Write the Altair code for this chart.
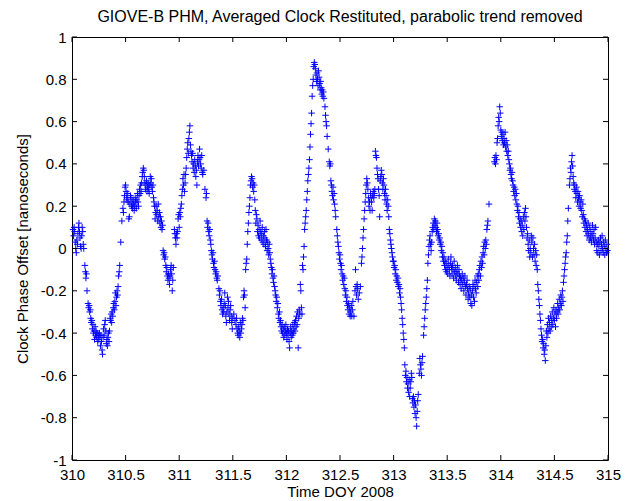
import altair as alt
import pandas as pd

# Averaged clock phase offset after removing a parabolic trend, one list per day of year
day310 = [
    (310.010, 0.09), (310.015, 0.06), (310.020, 0.10), (310.025, 0.08), (310.030, 0.03),
    (310.035, 0.00), (310.040, -0.02), (310.045, 0.04), (310.050, 0.02), (310.055, 0.07),
    (310.060, 0.10), (310.065, 0.12), (310.070, 0.08), (310.075, 0.05), (310.080, 0.01),
    (310.085, 0.00), (310.090, 0.06), (310.095, 0.10), (310.100, 0.08), (310.105, 0.02),
    (310.110, 0.00), (310.120, -0.08), (310.125, -0.11), (310.130, -0.14), (310.135, -0.12),
    (310.140, -0.20), (310.150, -0.26), (310.155, -0.28), (310.160, -0.27), (310.165, -0.30),
    (310.170, -0.29), (310.175, -0.33), (310.180, -0.35), (310.185, -0.34), (310.190, -0.38),
    (310.195, -0.36), (310.200, -0.40), (310.205, -0.39), (310.210, -0.43), (310.215, -0.37),
    (310.220, -0.41), (310.225, -0.39), (310.230, -0.42), (310.235, -0.40), (310.240, -0.44),
    (310.245, -0.41), (310.250, -0.43), (310.255, -0.40), (310.260, -0.42), (310.265, -0.46),
    (310.270, -0.41), (310.275, -0.44), (310.280, -0.48), (310.285, -0.50), (310.290, -0.42),
    (310.295, -0.38), (310.300, -0.41), (310.305, -0.36), (310.310, -0.34), (310.315, -0.39),
    (310.320, -0.45), (310.325, -0.43), (310.330, -0.46), (310.335, -0.42), (310.340, -0.40),
    (310.345, -0.44), (310.350, -0.39), (310.355, -0.33), (310.360, -0.34), (310.365, -0.31),
    (310.370, -0.35), (310.375, -0.30), (310.380, -0.32), (310.385, -0.28), (310.390, -0.26),
    (310.395, -0.29), (310.400, -0.25), (310.405, -0.21), (310.410, -0.27), (310.415, -0.23),
    (310.420, -0.20), (310.425, -0.22), (310.430, -0.18), (310.435, -0.13), (310.440, -0.11),
    (310.445, -0.08), (310.455, 0.03), (310.465, 0.13), (310.475, 0.19), (310.480, 0.17),
    (310.485, 0.22), (310.490, 0.25), (310.495, 0.29), (310.500, 0.30), (310.505, 0.27),
    (310.510, 0.24), (310.515, 0.23), (310.520, 0.26), (310.525, 0.22), (310.530, 0.14),
    (310.535, 0.15), (310.540, 0.21), (310.545, 0.25), (310.550, 0.24), (310.555, 0.20),
    (310.560, 0.22), (310.565, 0.19), (310.570, 0.23), (310.575, 0.21), (310.580, 0.18),
    (310.585, 0.20), (310.590, 0.24), (310.595, 0.22), (310.600, 0.19), (310.605, 0.23),
    (310.610, 0.26), (310.615, 0.22), (310.620, 0.20), (310.625, 0.25), (310.630, 0.28),
    (310.635, 0.26), (310.640, 0.30), (310.645, 0.27), (310.650, 0.31), (310.655, 0.34),
    (310.660, 0.36), (310.665, 0.38), (310.670, 0.37), (310.675, 0.34), (310.680, 0.31),
    (310.685, 0.28), (310.690, 0.30), (310.695, 0.32), (310.700, 0.27), (310.705, 0.29),
    (310.710, 0.31), (310.715, 0.28), (310.720, 0.26), (310.725, 0.30), (310.730, 0.34),
    (310.735, 0.31), (310.740, 0.33), (310.745, 0.29), (310.750, 0.27), (310.755, 0.30),
    (310.760, 0.24), (310.765, 0.22), (310.770, 0.20), (310.775, 0.14), (310.780, 0.17),
    (310.785, 0.20), (310.790, 0.16), (310.795, 0.18), (310.800, 0.13), (310.805, 0.21),
    (310.810, 0.15), (310.815, 0.17), (310.820, 0.12), (310.825, 0.15), (310.830, 0.10),
    (310.835, 0.13), (310.840, 0.09), (310.845, 0.11), (310.850, -0.01), (310.855, -0.03),
    (310.860, -0.02), (310.865, -0.05), (310.870, -0.04), (310.875, -0.08), (310.880, -0.11),
    (310.885, -0.09), (310.890, -0.13), (310.895, -0.15), (310.900, -0.12), (310.905, -0.14),
    (310.910, -0.17), (310.915, -0.13), (310.920, -0.10), (310.925, -0.08), (310.930, -0.12),
    (310.935, -0.20), (310.940, -0.15), (310.945, -0.09), (310.955, 0.09), (310.960, 0.07),
    (310.965, 0.05), (310.970, 0.02), (310.975, 0.07), (310.980, 0.05), (310.985, 0.08),
    (310.990, 0.14), (310.995, 0.16),
]

day311 = [
    (311.000, 0.10), (311.005, 0.17), (311.010, 0.15), (311.015, 0.19), (311.020, 0.21),
    (311.025, 0.25), (311.030, 0.28), (311.035, 0.33), (311.040, 0.30), (311.045, 0.35),
    (311.050, 0.27), (311.055, 0.31), (311.060, 0.35), (311.065, 0.38), (311.070, 0.43),
    (311.075, 0.47), (311.080, 0.50), (311.085, 0.45), (311.090, 0.52), (311.095, 0.55),
    (311.100, 0.58), (311.105, 0.49), (311.110, 0.46), (311.115, 0.44), (311.120, 0.41),
    (311.125, 0.45), (311.130, 0.38), (311.135, 0.40), (311.140, 0.36), (311.145, 0.42),
    (311.150, 0.39), (311.155, 0.34), (311.160, 0.37), (311.165, 0.30), (311.170, 0.41),
    (311.175, 0.44), (311.180, 0.39), (311.185, 0.42), (311.190, 0.47), (311.195, 0.43),
    (311.200, 0.40), (311.205, 0.38), (311.210, 0.44), (311.215, 0.36), (311.220, 0.35),
    (311.230, 0.37), (311.240, 0.28), (311.250, 0.24), (311.255, 0.26), (311.260, 0.13),
    (311.265, 0.10), (311.270, 0.12), (311.275, 0.08), (311.280, 0.06), (311.285, 0.09),
    (311.290, 0.04), (311.295, 0.02), (311.300, -0.01), (311.305, -0.03), (311.310, -0.05),
    (311.315, -0.02), (311.320, -0.07), (311.325, -0.09), (311.330, -0.06), (311.335, -0.10),
    (311.340, -0.12), (311.345, -0.11), (311.350, -0.14), (311.355, -0.15), (311.360, -0.13),
    (311.370, -0.19), (311.375, -0.22), (311.380, -0.20), (311.385, -0.25), (311.390, -0.27),
    (311.395, -0.24), (311.400, -0.29), (311.405, -0.31), (311.410, -0.28), (311.415, -0.30),
    (311.420, -0.26), (311.425, -0.21), (311.430, -0.27), (311.435, -0.32), (311.440, -0.35),
    (311.445, -0.30), (311.450, -0.23), (311.455, -0.28), (311.460, -0.25), (311.465, -0.31),
    (311.470, -0.34), (311.475, -0.29), (311.480, -0.27), (311.485, -0.32), (311.490, -0.35),
    (311.495, -0.38), (311.500, -0.33), (311.510, -0.31), (311.520, -0.34), (311.530, -0.36),
    (311.535, -0.33), (311.540, -0.38), (311.545, -0.40), (311.550, -0.41), (311.555, -0.37),
    (311.560, -0.39), (311.565, -0.42), (311.570, -0.35), (311.575, -0.40), (311.580, -0.38),
    (311.585, -0.36), (311.590, -0.33), (311.595, -0.34), (311.600, -0.23), (311.605, -0.20),
    (311.610, -0.22), (311.615, -0.28), (311.620, -0.10), (311.625, -0.07), (311.630, -0.05),
    (311.635, 0.02), (311.640, 0.08), (311.645, 0.12), (311.650, 0.17), (311.655, 0.20),
    (311.660, 0.24), (311.665, 0.30), (311.670, 0.32), (311.675, 0.34), (311.680, 0.33),
    (311.685, 0.29), (311.690, 0.31), (311.695, 0.27), (311.700, 0.30), (311.705, 0.23),
    (311.710, 0.18), (311.715, 0.12), (311.720, 0.16), (311.725, 0.14), (311.730, 0.08),
    (311.735, 0.11), (311.740, 0.06), (311.745, 0.09), (311.750, 0.05), (311.755, 0.13),
    (311.760, 0.08), (311.765, 0.04), (311.770, 0.07), (311.775, 0.10), (311.780, 0.03),
    (311.785, 0.06), (311.790, 0.02), (311.795, 0.08), (311.800, 0.05), (311.805, 0.01),
    (311.810, 0.09), (311.815, 0.04), (311.820, -0.01), (311.825, 0.03), (311.830, 0.00),
    (311.835, -0.03), (311.840, 0.02), (311.845, -0.02), (311.850, -0.05), (311.855, -0.07),
    (311.860, -0.09), (311.865, -0.12), (311.870, -0.10), (311.875, -0.14), (311.880, -0.16),
    (311.885, -0.13), (311.890, -0.18), (311.895, -0.20), (311.900, -0.22), (311.905, -0.25),
    (311.910, -0.23), (311.915, -0.28), (311.920, -0.26), (311.925, -0.31), (311.930, -0.33),
    (311.935, -0.30), (311.940, -0.35), (311.945, -0.34), (311.950, -0.37), (311.955, -0.39),
    (311.960, -0.36), (311.965, -0.40), (311.970, -0.38), (311.975, -0.42), (311.980, -0.37),
    (311.985, -0.41), (311.990, -0.39), (311.995, -0.36),
]

day312 = [
    (312.000, -0.40), (312.005, -0.43), (312.010, -0.38), (312.015, -0.41), (312.020, -0.39),
    (312.025, -0.44), (312.030, -0.47), (312.035, -0.40), (312.040, -0.37), (312.045, -0.42),
    (312.050, -0.39), (312.055, -0.41), (312.060, -0.36), (312.065, -0.40), (312.070, -0.38),
    (312.075, -0.35), (312.080, -0.39), (312.085, -0.34), (312.090, -0.37), (312.095, -0.32),
    (312.100, -0.36), (312.105, -0.30), (312.110, -0.47), (312.115, -0.33), (312.120, -0.29),
    (312.125, -0.31), (312.130, -0.17), (312.135, -0.20), (312.140, -0.28), (312.145, -0.31),
    (312.150, -0.08), (312.155, -0.10), (312.160, -0.04), (312.165, 0.01), (312.170, 0.09),
    (312.175, 0.12), (312.180, 0.15), (312.185, 0.18), (312.190, 0.23), (312.195, 0.27),
    (312.200, 0.32), (312.205, 0.35), (312.210, 0.38), (312.215, 0.42), (312.220, 0.48),
    (312.225, 0.54), (312.230, 0.59), (312.235, 0.64), (312.240, 0.72), (312.245, 0.77),
    (312.250, 0.80), (312.255, 0.86), (312.260, 0.88), (312.265, 0.87), (312.270, 0.85),
    (312.275, 0.82), (312.280, 0.79), (312.285, 0.83), (312.290, 0.80), (312.295, 0.77),
    (312.300, 0.84), (312.305, 0.81), (312.310, 0.78), (312.315, 0.75), (312.320, 0.79),
    (312.325, 0.76), (312.330, 0.73), (312.335, 0.75), (312.340, 0.72), (312.345, 0.74),
    (312.350, 0.71), (312.360, 0.67), (312.365, 0.63), (312.370, 0.60), (312.375, 0.58),
    (312.380, 0.53), (312.390, 0.47), (312.400, 0.41), (312.405, 0.39), (312.410, 0.40),
    (312.415, 0.32), (312.420, 0.30), (312.425, 0.27), (312.430, 0.25), (312.435, 0.29),
    (312.440, 0.23), (312.445, 0.26), (312.450, 0.21), (312.455, 0.18), (312.460, 0.15),
    (312.470, 0.09), (312.475, 0.06), (312.480, 0.03), (312.485, 0.01), (312.490, -0.02),
    (312.495, -0.05), (312.500, -0.03), (312.505, -0.07), (312.510, -0.10), (312.515, -0.08),
    (312.520, -0.12), (312.525, -0.15), (312.530, -0.13), (312.535, -0.17), (312.540, -0.14),
    (312.545, -0.19), (312.550, -0.22), (312.555, -0.20), (312.560, -0.25), (312.565, -0.23),
    (312.570, -0.27), (312.575, -0.29), (312.580, -0.26), (312.585, -0.31), (312.590, -0.28),
    (312.595, -0.32), (312.600, -0.30), (312.605, -0.27), (312.610, -0.32), (312.615, -0.29),
    (312.620, -0.25), (312.630, -0.32), (312.640, -0.20), (312.645, -0.10), (312.650, -0.18),
    (312.655, -0.22), (312.660, -0.17), (312.665, -0.19), (312.670, -0.24), (312.680, -0.21),
    (312.690, -0.18), (312.700, -0.07), (312.705, -0.04), (312.710, 0.00), (312.715, 0.05),
    (312.720, 0.09), (312.725, 0.14), (312.730, 0.18), (312.735, 0.22), (312.740, 0.26),
    (312.745, 0.30), (312.750, 0.33), (312.755, 0.31), (312.760, 0.28), (312.765, 0.24),
    (312.770, 0.20), (312.775, 0.22), (312.780, 0.18), (312.785, 0.26), (312.790, 0.24),
    (312.795, 0.22), (312.800, 0.18), (312.805, 0.25), (312.810, 0.27), (312.815, 0.24),
    (312.820, 0.26), (312.825, 0.28), (312.830, 0.46), (312.835, 0.44), (312.840, 0.43),
    (312.845, 0.38), (312.850, 0.35), (312.855, 0.33), (312.860, 0.28), (312.865, 0.25),
    (312.870, 0.15), (312.875, 0.32), (312.880, 0.34), (312.885, 0.37), (312.890, 0.35),
    (312.895, 0.31), (312.900, 0.28), (312.905, 0.33), (312.910, 0.30), (312.915, 0.26),
    (312.920, 0.23), (312.925, 0.28), (312.930, 0.25), (312.935, 0.21), (312.940, 0.18),
    (312.945, 0.23), (312.950, 0.20), (312.955, 0.15), (312.960, 0.09), (312.965, 0.07),
    (312.970, 0.04), (312.975, 0.02), (312.980, 0.00), (312.985, -0.02), (312.990, -0.04),
    (312.995, -0.06),
]

day313 = [
    (313.000, -0.06), (313.005, -0.09), (313.010, -0.08), (313.015, -0.12), (313.020, -0.10),
    (313.025, -0.15), (313.030, -0.13), (313.035, -0.16), (313.040, -0.14), (313.045, -0.18),
    (313.050, -0.17), (313.055, -0.21), (313.060, -0.19), (313.065, -0.23), (313.070, -0.26),
    (313.075, -0.29), (313.080, -0.33), (313.085, -0.36), (313.090, -0.40), (313.095, -0.43),
    (313.100, -0.47), (313.105, -0.55), (313.110, -0.60), (313.115, -0.58), (313.120, -0.63),
    (313.125, -0.61), (313.130, -0.66), (313.135, -0.64), (313.140, -0.68), (313.145, -0.62),
    (313.150, -0.70), (313.155, -0.66), (313.160, -0.63), (313.165, -0.59), (313.170, -0.61),
    (313.175, -0.71), (313.180, -0.73), (313.185, -0.70), (313.190, -0.75), (313.195, -0.72),
    (313.200, -0.78), (313.205, -0.74), (313.210, -0.80), (313.215, -0.84), (313.220, -0.77),
    (313.225, -0.72), (313.230, -0.69), (313.240, -0.59), (313.245, -0.52), (313.250, -0.55),
    (313.255, -0.57), (313.260, -0.60), (313.265, -0.54), (313.270, -0.51), (313.280, -0.41),
    (313.285, -0.37), (313.290, -0.33), (313.295, -0.29), (313.300, -0.26), (313.305, -0.23),
    (313.310, -0.19), (313.315, -0.15), (313.320, -0.07), (313.325, -0.03), (313.330, 0.01),
    (313.335, 0.04), (313.340, 0.06), (313.345, 0.02), (313.350, -0.01), (313.355, 0.03),
    (313.360, 0.08), (313.365, 0.10), (313.370, 0.12), (313.375, 0.09), (313.380, 0.14),
    (313.385, 0.11), (313.390, 0.13), (313.395, 0.10), (313.400, 0.08), (313.405, 0.12),
    (313.410, 0.09), (313.415, 0.06), (313.420, 0.07), (313.425, 0.04), (313.430, 0.05),
    (313.435, 0.02), (313.440, 0.03), (313.445, -0.01), (313.450, 0.01), (313.455, -0.04),
    (313.460, -0.02), (313.465, -0.06), (313.470, -0.04), (313.475, -0.08), (313.480, -0.06),
    (313.485, -0.10), (313.490, -0.07), (313.495, -0.11), (313.500, -0.09), (313.505, -0.12),
    (313.510, -0.05), (313.515, -0.08), (313.520, -0.10), (313.525, -0.13), (313.530, -0.07),
    (313.535, -0.04), (313.540, -0.09), (313.545, -0.12), (313.550, -0.08), (313.555, -0.10),
    (313.560, -0.14), (313.565, -0.06), (313.570, -0.11), (313.575, -0.09), (313.580, -0.13),
    (313.585, -0.15), (313.590, -0.11), (313.595, -0.08), (313.600, -0.12), (313.605, -0.16),
    (313.610, -0.10), (313.615, -0.13), (313.620, -0.17), (313.625, -0.14), (313.630, -0.19),
    (313.635, -0.15), (313.640, -0.12), (313.645, -0.17), (313.650, -0.14), (313.655, -0.20),
    (313.660, -0.16), (313.665, -0.13), (313.670, -0.18), (313.675, -0.22), (313.680, -0.17),
    (313.685, -0.15), (313.690, -0.19), (313.695, -0.24), (313.700, -0.21), (313.705, -0.18),
    (313.710, -0.23), (313.715, -0.19), (313.720, -0.26), (313.725, -0.22), (313.730, -0.27),
    (313.735, -0.20), (313.740, -0.17), (313.745, -0.23), (313.750, -0.18), (313.755, -0.25),
    (313.760, -0.15), (313.765, -0.19), (313.770, -0.21), (313.775, -0.16), (313.780, -0.13),
    (313.785, -0.18), (313.790, -0.12), (313.795, -0.15), (313.800, -0.10), (313.805, -0.08),
    (313.810, -0.13), (313.815, -0.06), (313.820, -0.09), (313.825, -0.04), (313.830, -0.07),
    (313.835, -0.02), (313.840, 0.01), (313.845, -0.03), (313.850, 0.03), (313.855, 0.00),
    (313.860, 0.04), (313.865, 0.02), (313.870, 0.09), (313.875, 0.11), (313.880, 0.13),
    (313.890, 0.21), (313.940, 0.41), (313.945, 0.43), (313.950, 0.40), (313.955, 0.44),
    (313.960, 0.42), (313.965, 0.50), (313.970, 0.52), (313.975, 0.58), (313.980, 0.62),
    (313.985, 0.60), (313.990, 0.67), (313.995, 0.64),
]

day314 = [
    (314.000, 0.56), (314.005, 0.53), (314.010, 0.55), (314.015, 0.51), (314.020, 0.54),
    (314.025, 0.49), (314.030, 0.52), (314.035, 0.50), (314.040, 0.55), (314.045, 0.48),
    (314.050, 0.51), (314.055, 0.46), (314.060, 0.49), (314.065, 0.44), (314.070, 0.46),
    (314.075, 0.42), (314.080, 0.40), (314.085, 0.37), (314.090, 0.38), (314.095, 0.35),
    (314.100, 0.33), (314.105, 0.36), (314.110, 0.32), (314.115, 0.30), (314.120, 0.27),
    (314.125, 0.29), (314.130, 0.25), (314.135, 0.28), (314.140, 0.23), (314.145, 0.26),
    (314.150, 0.21), (314.155, 0.18), (314.160, 0.20), (314.165, 0.15), (314.170, 0.17),
    (314.175, 0.12), (314.180, 0.14), (314.185, 0.10), (314.190, 0.13), (314.195, 0.08),
    (314.200, 0.11), (314.205, 0.06), (314.210, 0.15), (314.215, 0.09), (314.220, 0.17),
    (314.225, 0.13), (314.230, 0.19), (314.235, 0.15), (314.240, 0.10), (314.245, 0.05),
    (314.250, 0.07), (314.255, 0.02), (314.260, -0.01), (314.265, 0.04), (314.270, -0.04),
    (314.275, 0.00), (314.280, -0.02), (314.285, 0.06), (314.290, 0.03), (314.295, -0.04),
    (314.300, 0.05), (314.305, 0.00), (314.310, -0.03), (314.315, 0.02), (314.320, -0.06),
    (314.325, -0.01), (314.330, -0.08), (314.335, -0.03), (314.340, -0.10), (314.345, -0.17),
    (314.350, -0.20), (314.355, -0.24), (314.360, -0.27), (314.365, -0.31), (314.370, -0.34),
    (314.375, -0.38), (314.380, -0.41), (314.385, -0.44), (314.390, -0.43), (314.395, -0.47),
    (314.400, -0.45), (314.405, -0.50), (314.410, -0.48), (314.415, -0.53), (314.420, -0.46),
    (314.425, -0.39), (314.430, -0.42), (314.435, -0.36), (314.440, -0.40), (314.445, -0.33),
    (314.450, -0.38), (314.455, -0.35), (314.460, -0.39), (314.465, -0.32), (314.470, -0.37),
    (314.475, -0.34), (314.480, -0.30), (314.485, -0.36), (314.490, -0.33), (314.495, -0.28),
    (314.500, -0.34), (314.505, -0.31), (314.510, -0.37), (314.515, -0.29), (314.520, -0.33),
    (314.525, -0.30), (314.530, -0.26), (314.535, -0.31), (314.540, -0.28), (314.545, -0.24),
    (314.550, -0.29), (314.555, -0.26), (314.560, -0.22), (314.565, -0.27), (314.570, -0.23),
    (314.575, -0.20), (314.580, -0.25), (314.585, -0.16), (314.590, -0.13), (314.595, -0.10),
    (314.600, -0.07), (314.605, -0.04), (314.610, -0.02), (314.615, 0.03), (314.620, 0.06),
    (314.625, 0.13), (314.630, 0.19), (314.640, 0.30), (314.645, 0.33), (314.650, 0.38),
    (314.655, 0.36), (314.660, 0.41), (314.665, 0.44), (314.670, 0.39), (314.675, 0.34),
    (314.680, 0.31), (314.685, 0.28), (314.690, 0.30), (314.695, 0.27), (314.700, 0.24),
    (314.705, 0.29), (314.710, 0.26), (314.715, 0.22), (314.720, 0.27), (314.725, 0.24),
    (314.730, 0.20), (314.735, 0.25), (314.740, 0.22), (314.745, 0.19), (314.750, 0.23),
    (314.755, 0.18), (314.760, 0.15), (314.765, 0.21), (314.770, 0.16), (314.775, 0.12),
    (314.780, 0.14), (314.785, 0.10), (314.790, 0.13), (314.795, 0.08), (314.800, 0.11),
    (314.805, 0.06), (314.810, 0.09), (314.815, 0.12), (314.820, 0.07), (314.825, 0.04),
    (314.830, 0.10), (314.835, 0.05), (314.840, 0.08), (314.845, 0.03), (314.850, 0.06),
    (314.855, 0.11), (314.860, 0.07), (314.865, 0.04), (314.870, 0.09), (314.875, 0.02),
    (314.880, 0.05), (314.885, 0.10), (314.890, 0.03), (314.895, -0.01), (314.900, 0.02),
    (314.905, -0.02), (314.910, 0.04), (314.915, 0.01), (314.920, -0.03), (314.925, 0.03),
    (314.930, 0.05), (314.935, -0.01), (314.940, 0.02), (314.945, 0.06), (314.950, 0.00),
    (314.955, -0.02), (314.960, 0.03), (314.965, 0.01), (314.970, -0.03), (314.975, 0.04),
    (314.980, 0.00), (314.985, -0.02), (314.990, 0.02), (314.995, -0.01),
]

x_ticks = [310, 310.5, 311, 311.5, 312, 312.5, 313, 313.5, 314, 314.5, 315]
y_ticks = [-1, -0.8, -0.6, -0.4, -0.2, 0, 0.2, 0.4, 0.6, 0.8, 1]

W, H = 536, 423
FONT = "Liberation Sans"
FS = 15
TICK_LEN = 5

rows = day310 + day311 + day312 + day313 + day314
df = pd.DataFrame(rows, columns=["doy", "offset"])
xt = pd.DataFrame({"doy": x_ticks})
yt = pd.DataFrame({"offset": y_ticks})

x_scale = alt.Scale(domain=[310, 315], nice=False, zero=False)
y_scale = alt.Scale(domain=[-1, 1], nice=False, zero=False)

common = dict(ticks=False, tickSize=0, domain=False, grid=False, labelFlush=False,
              labelOverlap=False, labelFont=FONT, labelFontSize=FS, labelColor="black",
              titleFont=FONT, titleFontSize=FS, titleFontWeight="normal", titleColor="black")
x_axis = alt.Axis(values=x_ticks, format="~g", title="Time DOY 2008",
                  labelPadding=7, titlePadding=2, **common)
y_axis = alt.Axis(values=y_ticks, title="Clock Phase Offset [nanoseconds]",
                  labelExpr="replace(format(datum.value, '~g'), '\u2212', '-')",
                  labelPadding=6, titlePadding=10, **common)

# Thin "+" markers, as a stroked path
plus = "M-1,0L1,0M0,-1L0,1"

points = alt.Chart(df).mark_point(
    shape=plus, filled=False, stroke="#0000ff", strokeWidth=1, size=42, opacity=1
).encode(
    x=alt.X("doy:Q", scale=x_scale, axis=x_axis),
    y=alt.Y("offset:Q", scale=y_scale, axis=y_axis),
)

# Inward tick marks on all four sides of the box
tick_b = alt.Chart(xt).mark_rule(color="black", strokeWidth=1).encode(
    x=alt.X("doy:Q", scale=x_scale, axis=x_axis), y=alt.value(H), y2=alt.value(H - TICK_LEN))
tick_t = alt.Chart(xt).mark_rule(color="black", strokeWidth=1).encode(
    x=alt.X("doy:Q", scale=x_scale, axis=x_axis), y=alt.value(0), y2=alt.value(TICK_LEN))
tick_l = alt.Chart(yt).mark_rule(color="black", strokeWidth=1).encode(
    y=alt.Y("offset:Q", scale=y_scale, axis=y_axis), x=alt.value(0), x2=alt.value(TICK_LEN))
tick_r = alt.Chart(yt).mark_rule(color="black", strokeWidth=1).encode(
    y=alt.Y("offset:Q", scale=y_scale, axis=y_axis), x=alt.value(W), x2=alt.value(W - TICK_LEN))

chart = alt.layer(points, tick_b, tick_t, tick_l, tick_r).properties(
    width=W, height=H,
    title=alt.TitleParams(
        "GIOVE-B PHM, Averaged Clock Restituted, parabolic trend removed",
        font=FONT, fontSize=16, fontWeight="normal", color="black", offset=5),
    autosize=alt.AutoSizeParams(type="none"),
    padding={"left": 72, "top": 37, "right": 26, "bottom": 41},
).configure_view(stroke="black", strokeWidth=1)

chart.save("out.html", embed_options={"renderer": "svg", "actions": False})
